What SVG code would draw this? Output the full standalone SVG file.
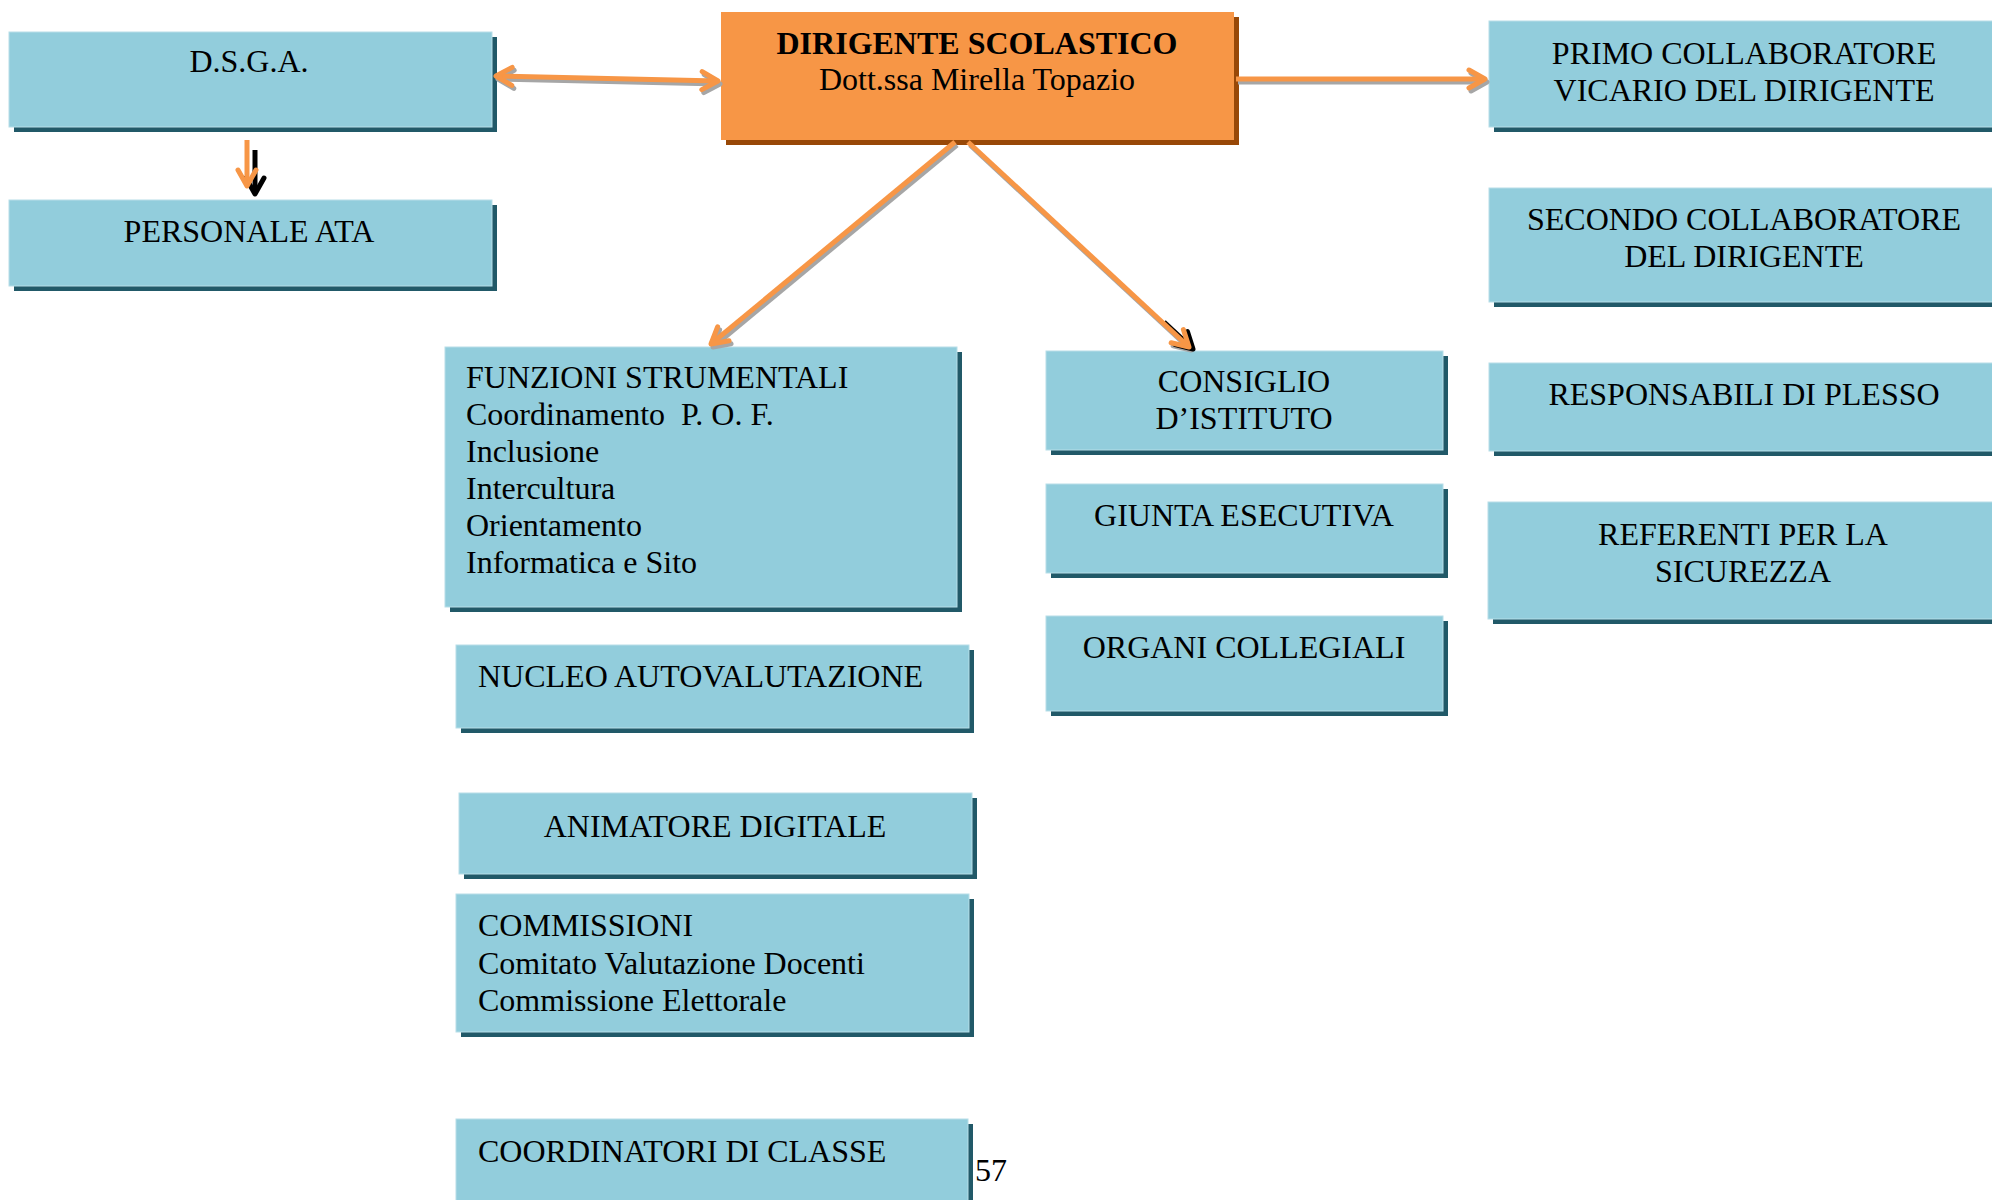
<svg xmlns="http://www.w3.org/2000/svg" width="1992" height="1200" viewBox="0 0 1992 1200">
<style>
.box{fill:#92CDDC;stroke:#B7DEE8;stroke-width:1}
.sh{fill:#215968}
.obox{fill:#F79646}
.osh{fill:#984807}
text{font-family:"Liberation Serif","Times New Roman",serif;font-size:32px;fill:#000}
.c{text-anchor:middle}
.b{font-weight:bold}
.ln{fill:none;stroke:#F79646;stroke-width:5}
.lg{fill:none;stroke:#A6A6A6;stroke-width:5}
.lk{fill:none;stroke:#000;stroke-width:5}
</style>
<defs>
<marker id="ao" viewBox="0 0 24 24" refX="20" refY="12" markerWidth="24" markerHeight="24" markerUnits="userSpaceOnUse" orient="auto-start-reverse">
<path d="M4,3 L20,12 L4,21" fill="none" stroke="#F79646" stroke-width="5" stroke-linecap="round" stroke-linejoin="round"/>
</marker>
<marker id="ag" viewBox="0 0 24 24" refX="20" refY="12" markerWidth="24" markerHeight="24" markerUnits="userSpaceOnUse" orient="auto-start-reverse">
<path d="M4,3 L20,12 L4,21" fill="none" stroke="#A6A6A6" stroke-width="5" stroke-linecap="round" stroke-linejoin="round"/>
</marker>
<marker id="ak" viewBox="0 0 24 24" refX="20" refY="12" markerWidth="24" markerHeight="24" markerUnits="userSpaceOnUse" orient="auto-start-reverse">
<path d="M4,3 L20,12 L4,21" fill="none" stroke="#000" stroke-width="5" stroke-linecap="round" stroke-linejoin="round"/>
</marker>
</defs>
<rect width="1992" height="1200" fill="#fff"/>

<g id="dsga"><rect class="sh" x="14" y="37" width="483" height="95"/><rect class="box" x="9" y="32" width="483" height="95"/><text class="c" x="249" y="72">D.S.G.A.</text></g>
<g id="ata"><rect class="sh" x="14" y="205" width="483" height="86"/><rect class="box" x="9" y="200" width="483" height="86"/><text class="c" x="249" y="242">PERSONALE ATA</text></g>
<g id="dirigente"><rect class="osh" x="726" y="17" width="513" height="128"/><rect class="obox" x="721" y="12" width="513" height="128"/><text class="c b" x="977" y="54">DIRIGENTE SCOLASTICO</text><text class="c" x="977" y="90">Dott.ssa Mirella Topazio</text></g>
<g id="primo"><rect class="sh" x="1494" y="26" width="510" height="106"/><rect class="box" x="1489" y="21" width="510" height="106"/><text class="c" x="1744" y="64">PRIMO COLLABORATORE</text><text class="c" x="1744" y="101">VICARIO DEL DIRIGENTE</text></g>
<g id="secondo"><rect class="sh" x="1494" y="193" width="510" height="114"/><rect class="box" x="1489" y="188" width="510" height="114"/><text class="c" x="1744" y="230">SECONDO COLLABORATORE</text><text class="c" x="1744" y="267">DEL DIRIGENTE</text></g>
<g id="responsabili"><rect class="sh" x="1494" y="368" width="510" height="88"/><rect class="box" x="1489" y="363" width="510" height="88"/><text class="c" x="1744" y="405">RESPONSABILI DI PLESSO</text></g>
<g id="referenti"><rect class="sh" x="1493" y="507" width="510" height="117"/><rect class="box" x="1488" y="502" width="510" height="117"/><text class="c" x="1743" y="545">REFERENTI PER LA</text><text class="c" x="1743" y="582">SICUREZZA</text></g>
<g id="funzioni"><rect class="sh" x="450" y="352" width="512" height="260"/><rect class="box" x="445" y="347" width="512" height="260"/>
<text x="466" y="388">FUNZIONI STRUMENTALI</text><text x="466" y="425" xml:space="preserve">Coordinamento  P. O. F.</text><text x="466" y="462">Inclusione</text><text x="466" y="499">Intercultura</text><text x="466" y="536">Orientamento</text><text x="466" y="573">Informatica e Sito</text></g>
<g id="nucleo"><rect class="sh" x="461" y="650" width="513" height="83"/><rect class="box" x="456" y="645" width="513" height="83"/><text x="478" y="687">NUCLEO AUTOVALUTAZIONE</text></g>
<g id="animatore"><rect class="sh" x="464" y="798" width="513" height="81"/><rect class="box" x="459" y="793" width="513" height="81"/><text class="c" x="715" y="837">ANIMATORE DIGITALE</text></g>
<g id="commissioni"><rect class="sh" x="461" y="899" width="513" height="138"/><rect class="box" x="456" y="894" width="513" height="138"/><text x="478" y="936">COMMISSIONI</text><text x="478" y="974">Comitato Valutazione Docenti</text><text x="478" y="1011">Commissione Elettorale</text></g>
<g id="coordinatori"><rect class="sh" x="461" y="1124" width="512" height="90"/><rect class="box" x="456" y="1119" width="512" height="90"/><text x="478" y="1162">COORDINATORI DI CLASSE</text></g>
<g id="consiglio"><rect class="sh" x="1051" y="356" width="397" height="99"/><rect class="box" x="1046" y="351" width="397" height="99"/><text class="c" x="1244" y="392">CONSIGLIO</text><text class="c" x="1244" y="429">D’ISTITUTO</text></g>
<g id="giunta"><rect class="sh" x="1051" y="489" width="397" height="89"/><rect class="box" x="1046" y="484" width="397" height="89"/><text class="c" x="1244" y="526">GIUNTA ESECUTIVA</text></g>
<g id="organi"><rect class="sh" x="1051" y="621" width="397" height="95"/><rect class="box" x="1046" y="616" width="397" height="95"/><text class="c" x="1244" y="658">ORGANI COLLEGIALI</text></g>
<text id="pagenum" x="975" y="1181">57</text>

<g id="connectors">
<g transform="translate(2,3)">
<line class="lg" x1="496" y1="76" x2="718" y2="81" marker-start="url(#ag)" marker-end="url(#ag)"/>
<line class="lg" x1="1236" y1="79" x2="1485" y2="79" marker-end="url(#ag)"/>
<line class="lg" x1="955" y1="142" x2="711" y2="344" marker-end="url(#ag)"/>
<line class="lg" x1="968" y1="142" x2="1189" y2="347" marker-end="url(#ag)"/>
</g>
<g transform="translate(6,6)">
<line class="lk" x1="249" y1="144" x2="249" y2="188" marker-end="url(#ak)"/>
</g>
<g transform="translate(4,2)">
<line class="lk" x1="1160" y1="320" x2="1189" y2="347" marker-end="url(#ak)"/>
</g>
<line class="ln" x1="496" y1="76" x2="718" y2="81" marker-start="url(#ao)" marker-end="url(#ao)"/>
<line class="ln" x1="1236" y1="79" x2="1485" y2="79" marker-end="url(#ao)"/>
<line class="ln" x1="955" y1="142" x2="711" y2="344" marker-end="url(#ao)"/>
<line class="ln" x1="968" y1="142" x2="1189" y2="347" marker-end="url(#ao)"/>
<line class="ln" x1="247" y1="140" x2="247" y2="186" marker-end="url(#ao)"/>
</g>
</svg>
